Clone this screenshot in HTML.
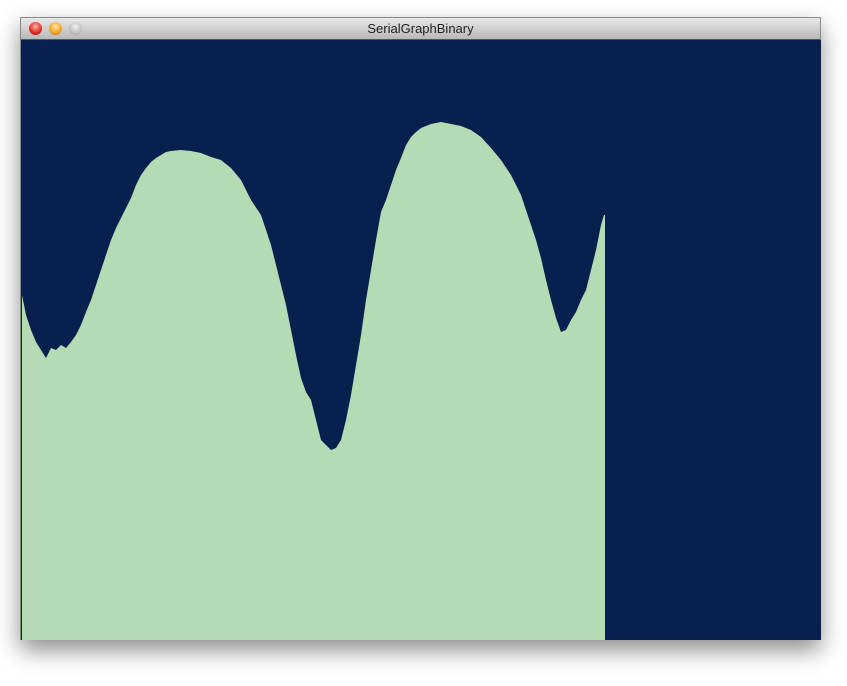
<!DOCTYPE html>
<html><head><meta charset="utf-8"><style>
html,body{margin:0;padding:0;background:#fff;width:847px;height:686px;overflow:hidden;font-family:"Liberation Sans",sans-serif}
#win{position:absolute;left:20px;top:17px;width:801px;height:623px;box-shadow:0 10px 22px rgba(0,0,0,0.45);border:1px solid #8a8a8a;box-sizing:border-box}
#title{position:absolute;left:0;top:0;width:100%;height:22px;background:linear-gradient(#e8e8e8,#b8b8b8);border-bottom:1px solid #555;box-sizing:border-box;text-align:center;font-size:13px;line-height:22px;color:#222}
.btn{position:absolute;top:4px;width:13px;height:13px;border-radius:50%}
#chart{position:absolute;left:0;top:22px}
</style></head><body>
<div id="win">
<div id="title">SerialGraphBinary
<div class="btn" style="left:8px;background:radial-gradient(circle at 50% 35%,#ffb0a8,#e0281e 60%,#a01010)"></div>
<div class="btn" style="left:28px;background:radial-gradient(circle at 50% 35%,#ffe8a0,#f0a020 60%,#b07010)"></div>
<div class="btn" style="left:48px;background:radial-gradient(circle at 50% 35%,#f0f0f0,#c0c0c0 60%,#999)"></div>
</div>
<svg id="chart" width="800" height="600"><rect width="800" height="600" fill="#07204e"/></svg>
</div>
<script>
const xs=[0,4,9,14,19,24,29,34,39,44,49,54,59,64,69,74,79,84,89,94,99,104,109,114,119,124,129,134,139,144,149,159,169,179,189,199,209,219,229,239,244,249,254,259,264,269,274,279,284,289,294,299,304,309,314,319,324,329,334,339,344,349,354,359,364,369,374,379,384,389,394,399,404,409,419,429,439,449,459,469,479,489,494,499,504,509,514,519,524,529,534,539,544,549,554,559,564,569,574,579,582];
const values=[345,325,310,298,290,282,292,290,295,292,298,305,315,328,340,355,370,385,400,412,422,432,442,455,465,472,478,482,485,488,489,490,489,487,483,480,472,460,440,425,410,395,375,355,335,310,285,262,248,240,220,200,195,190,192,200,220,245,275,305,340,370,400,428,440,455,470,482,495,503,508,512,514,516,518,516,514,510,503,492,480,465,455,445,430,415,400,382,360,340,322,308,310,320,328,340,350,370,390,415,425];
const H=600;
const sx=i=>1+i, sy=v=>H-v;
const svg=document.getElementById('chart');
let d='M'+sx(xs[0])+','+H;
for(let i=0;i<xs.length;i++) d+=' L'+sx(xs[i])+','+sy(values[i]);
d+=' L'+(sx(xs[xs.length-1])+1)+','+sy(values[values.length-1])+' L'+(sx(xs[xs.length-1])+1)+','+H+' Z';
const p=document.createElementNS('http://www.w3.org/2000/svg','path');
p.setAttribute('d',d);p.setAttribute('fill','#b4dcb4');


svg.appendChild(p);
</script>
</body></html>
